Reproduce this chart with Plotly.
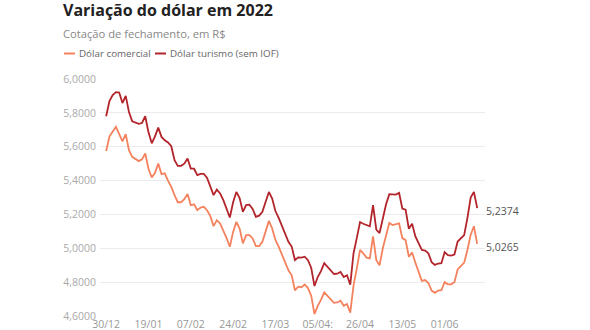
import plotly.graph_objects as go

datas = [
    "30/12",
    "03/01", "04/01", "05/01", "06/01", "07/01", "10/01", "11/01", "12/01", "13/01", "14/01",
    "17/01", "18/01", "19/01", "20/01", "21/01", "24/01", "25/01", "26/01", "27/01", "28/01", "31/01",
    "01/02", "02/02", "03/02", "04/02", "07/02", "08/02", "09/02", "10/02", "11/02", "14/02",
    "15/02", "16/02", "17/02", "18/02", "21/02", "22/02", "23/02", "24/02", "25/02",
    "02/03", "03/03", "04/03", "07/03", "08/03", "09/03", "10/03", "11/03", "14/03", "15/03",
    "16/03", "17/03", "18/03", "21/03", "22/03", "23/03", "24/03", "25/03", "28/03", "29/03",
    "30/03", "31/03",
    "01/04", "04/04", "05/04", "06/04", "07/04", "08/04", "11/04", "12/04", "13/04", "14/04",
    "18/04", "19/04", "20/04", "22/04", "25/04", "26/04", "27/04", "28/04", "29/04",
    "02/05", "03/05", "04/05", "05/05", "06/05", "09/05", "10/05", "11/05", "12/05", "13/05",
    "16/05", "17/05", "18/05", "19/05", "20/05", "23/05", "24/05", "25/05", "26/05", "27/05",
    "30/05", "31/05",
    "01/06", "02/06", "03/06", "06/06", "07/06", "08/06", "09/06", "10/06", "13/06", "14/06", "15/06",
]

dolar_comercial = [
    5.575, 5.660, 5.690, 5.717, 5.675, 5.632, 5.674, 5.580, 5.540, 5.530,
    5.515, 5.525, 5.560, 5.470, 5.418, 5.446, 5.500, 5.438, 5.443, 5.400,
    5.363, 5.314, 5.272, 5.272, 5.290, 5.320, 5.255, 5.260, 5.225, 5.240,
    5.245, 5.225, 5.190, 5.131, 5.166, 5.147, 5.107, 5.060, 5.009, 5.097,
    5.156, 5.117, 5.029, 5.078, 5.078, 5.058, 5.013, 5.013, 5.038, 5.100,
    5.162, 5.117, 5.050, 5.010, 4.960, 4.920, 4.870, 4.840, 4.752, 4.773,
    4.770, 4.786, 4.765, 4.720, 4.612, 4.660, 4.695, 4.740, 4.720, 4.700,
    4.678, 4.680, 4.690, 4.660, 4.671, 4.620, 4.780, 4.880, 4.990, 4.970,
    4.945, 4.940, 5.070, 4.930, 4.900, 5.000, 5.080, 5.150, 5.137, 5.140,
    5.147, 5.060, 5.048, 4.950, 4.975, 4.915, 4.860, 4.807, 4.812, 4.795,
    4.750, 4.737, 4.750, 4.752, 4.800, 4.787, 4.787, 4.800, 4.875, 4.895,
    4.915, 4.990, 5.080, 5.130, 5.0265,
]

dolar_turismo = [
    5.780, 5.870, 5.905, 5.922, 5.920, 5.858, 5.900, 5.805, 5.750, 5.740,
    5.735, 5.740, 5.780, 5.685, 5.620, 5.661, 5.713, 5.658, 5.638, 5.625,
    5.603, 5.520, 5.487, 5.487, 5.500, 5.530, 5.471, 5.470, 5.432, 5.440,
    5.440, 5.415, 5.370, 5.314, 5.347, 5.324, 5.284, 5.235, 5.182, 5.272,
    5.333, 5.297, 5.215, 5.255, 5.258, 5.233, 5.186, 5.193, 5.215, 5.275,
    5.333, 5.294, 5.220, 5.180, 5.130, 5.090, 5.038, 5.010, 4.930, 4.946,
    4.945, 4.950, 4.930, 4.885, 4.777, 4.830, 4.865, 4.912, 4.890, 4.870,
    4.848, 4.850, 4.860, 4.830, 4.841, 4.785, 4.970, 5.060, 5.155, 5.145,
    5.135, 5.130, 5.255, 5.110, 5.090, 5.180, 5.260, 5.320, 5.317, 5.317,
    5.327, 5.235, 5.228, 5.115, 5.145, 5.070, 5.030, 4.990, 4.987, 4.970,
    4.918, 4.902, 4.910, 4.912, 4.977, 4.960, 4.957, 4.963, 5.040, 5.058,
    5.078, 5.180, 5.300, 5.333, 5.2374,
]

x_tick_vals = ["30/12", "19/01", "07/02", "24/02", "17/03", "05/04", "26/04", "13/05", "01/06"]
x_tick_text = ["30/12", "19/01", "07/02", "24/02", "17/03", "05/04:", "26/04", "13/05", "01/06"]
y_tick_vals = [4.6, 4.8, 5.0, 5.2, 5.4, 5.6, 5.8, 6.0]
y_tick_text = ["4,6000", "4,8000", "5,0000", "5,2000", "5,4000", "5,6000", "5,8000", "6,0000"]

COR_COMERCIAL = "#f4825e"
COR_TURISMO = "#b3242b"
FONT = "Open Sans"

# plot area in pixels: x 100..485, y 79..316
PW, PH = 385.0, 237.0
def px_x(p):
    return (p - 100) / PW
def px_y(p):
    return (316 - p) / PH

def fmt(v):
    return f"{v:.4f}".replace(".", ",")

fig = go.Figure()
fig.add_trace(go.Scatter(x=datas, y=dolar_comercial, mode="lines", name="Dólar comercial",
                         line=dict(color=COR_COMERCIAL, width=1.8)))
fig.add_trace(go.Scatter(x=datas, y=dolar_turismo, mode="lines", name="Dólar turismo (sem IOF)",
                         line=dict(color=COR_TURISMO, width=1.8)))

legend_y = px_y(53.5)
shapes = [
    dict(type="line", xref="paper", yref="paper", x0=px_x(64), x1=px_x(75), y0=legend_y, y1=legend_y,
         line=dict(color=COR_COMERCIAL, width=2)),
    dict(type="line", xref="paper", yref="paper", x0=px_x(155), x1=px_x(166), y0=legend_y, y1=legend_y,
         line=dict(color=COR_TURISMO, width=2)),
]

annotations = [
    dict(text="Cotação de fechamento, em R$", xref="paper", yref="paper",
         x=px_x(61), y=px_y(33.5), xanchor="left", yanchor="middle",
         showarrow=False, font=dict(family=FONT, size=11.2, color="#888888")),
    dict(text="Dólar comercial", xref="paper", yref="paper",
         x=px_x(77), y=legend_y, xanchor="left", yanchor="middle",
         showarrow=False, font=dict(family=FONT, size=9.8, color="#666666")),
    dict(text="Dólar turismo (sem IOF)", xref="paper", yref="paper",
         x=px_x(168), y=legend_y, xanchor="left", yanchor="middle",
         showarrow=False, font=dict(family=FONT, size=9.8, color="#666666")),
    dict(text=fmt(dolar_turismo[-1]), x=datas[-1], y=dolar_turismo[-1], xanchor="left",
         yanchor="middle", xshift=7, yshift=-3, showarrow=False,
         font=dict(family=FONT, size=10.5, color="#555555")),
    dict(text=fmt(dolar_comercial[-1]), x=datas[-1], y=dolar_comercial[-1], xanchor="left",
         yanchor="middle", xshift=7, yshift=-3, showarrow=False,
         font=dict(family=FONT, size=10.5, color="#555555")),
]

fig.update_layout(
    width=590, height=330,
    margin=dict(l=100, r=105, t=79, b=14),
    paper_bgcolor="white", plot_bgcolor="white",
    title=dict(text="<b>Variação do dólar em 2022</b>", xref="container", yref="container",
               x=63 / 590, y=(330 - 10.5) / 330, xanchor="left", yanchor="middle",
               font=dict(family=FONT, size=16, color="#222222")),
    showlegend=False,
    shapes=shapes,
    annotations=annotations,
    xaxis=dict(type="category", range=[-1.9, 116.4], tickmode="array",
               tickvals=x_tick_vals, ticktext=x_tick_text, showgrid=False, zeroline=False,
               showline=False, ticks="", automargin=False,
               tickfont=dict(family=FONT, size=10.5, color="#999999")),
    yaxis=dict(range=[4.6, 6.0], tickmode="array", tickvals=y_tick_vals, ticktext=y_tick_text,
               showgrid=True, gridcolor="#ebebeb", gridwidth=1, zeroline=False, showline=False,
               ticks="", automargin=False, ticklabelstandoff=3,
               tickfont=dict(family=FONT, size=10.5, color="#aaaaaa")),
    hovermode="x unified",
)

fig.write_html("out.html")
